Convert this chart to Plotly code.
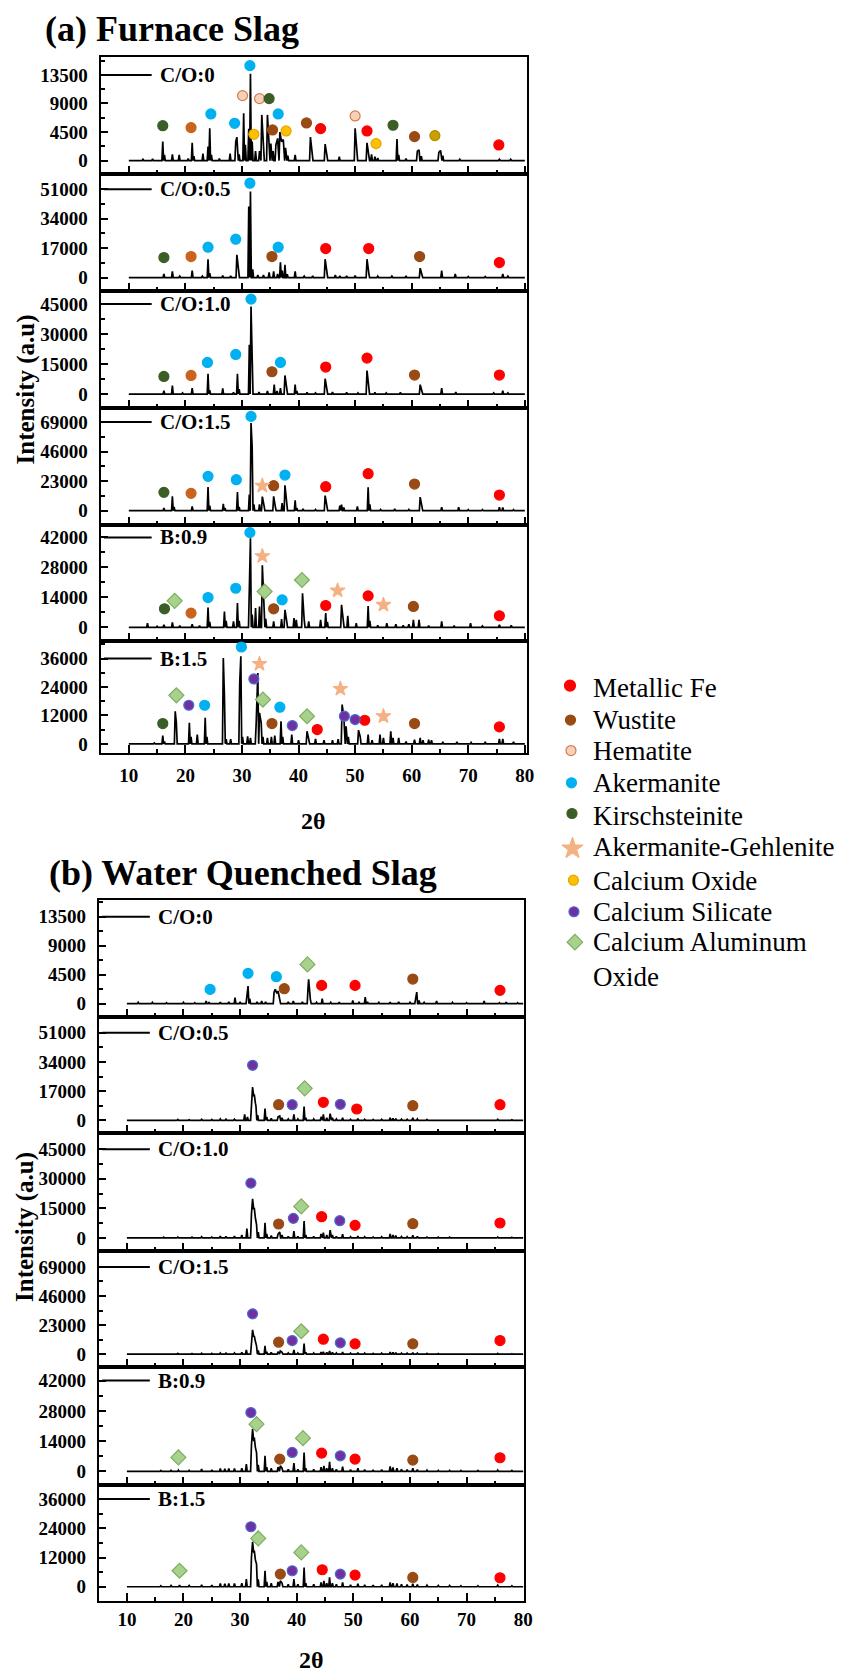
import plotly.graph_objects as go

W, H = 862, 1674
SERIF = "Liberation Serif"

# ---------------- phase marker styles ----------------
PHASE_STYLE = {
    "fe":    dict(symbol="circle",  fill="#FF0000", edge="#FF0000", size=10),
    "wus":   dict(symbol="circle",  fill="#9A4A14", edge="#9A4A14", size=10),
    "wus_o": dict(symbol="circle",  fill="#C9631E", edge="#C9631E", size=10),
    "hem":   dict(symbol="circle",  fill="#F8D0BA", edge="#CF8050", size=10),
    "ake":   dict(symbol="circle",  fill="#00B0F0", edge="#00B0F0", size=10),
    "kir":   dict(symbol="circle",  fill="#3B5E26", edge="#3B5E26", size=10),
    "akg":   dict(symbol="star",    fill="#F4B183", edge="#F4B183", size=11),
    "cao":   dict(symbol="circle",  fill="#FFC000", edge="#E2A600", size=10),
    "cao_d": dict(symbol="circle",  fill="#C9A000", edge="#B08A00", size=10),
    "cas":   dict(symbol="circle",  fill="#7030A0", edge="#4A6BD6", size=10),
    "caa":   dict(symbol="diamond", fill="#A9D18E", edge="#7DAE5E", size=11.5),
}

legend_keys = ["fe", "wus", "hem", "ake", "kir", "akg", "cao", "cas", "caa"]
legend_names = ["Metallic Fe", "Wustite", "Hematite", "Akermanite", "Kirschsteinite",
                "Akermanite-Gehlenite", "Calcium Oxide", "Calcium Silicate",
                "Calcium Aluminum<br>Oxide"]

# ---------------- samples ----------------
sample_labels = ["C/O:0", "C/O:0.5", "C/O:1.0", "C/O:1.5", "B:0.9", "B:1.5"]
tick_steps = [4500, 17000, 15000, 23000, 14000, 12000]

# ---------------- (a) furnace slag: peak positions (2θ) and intensities ----------------
fs_co0_2theta = [12.5, 14.2, 16.0, 16.3, 17.7, 18.9, 20.5, 21.2, 21.5, 23.1, 24.0, 24.3, 24.6, 26.0,
                 27.9, 28.9, 29.1, 29.5, 30.3, 30.6, 31.2, 31.5, 31.8, 32.4, 33.1, 33.5, 33.8, 34.5,
                 34.8, 35.1, 35.5, 36.0, 36.3, 36.7, 37.0, 37.3, 37.7, 38.1, 39.4, 42.1, 42.4, 44.7,
                 45.0, 47.2, 50.0, 50.3, 52.1, 52.4, 52.9, 53.5, 54.0, 57.4, 57.7, 59.0, 61.0, 61.3,
                 61.7, 64.8, 65.1, 65.5, 68.5, 75.5, 77.5]
fs_co0_counts = [200, 250, 3000, 900, 1000, 900, 300, 2800, 700, 1100, 2200, 5100, 900, 300,
                 1100, 3000, 3700, 1000, 7450, 2500, 5000, 13700, 3000, 1500, 1500, 7200, 2000, 7200,
                 2500, 2700, 1500, 2500, 3500, 4500, 3000, 3300, 2000, 800, 900, 3700, 1000, 2600,
                 900, 600, 5100, 800, 2800, 900, 1000, 600, 400, 3400, 900, 300, 1500, 1700,
                 700, 1300, 1600, 800, 200, 200, 200]

fs_co05_2theta = [12.0, 14.0, 16.2, 17.7, 19.0, 21.2, 23.0, 24.0, 24.3, 26.6, 28.0, 29.1, 29.4, 31.2,
                  31.5, 31.9, 32.8, 33.8, 34.8, 35.6, 36.3, 36.8, 37.1, 37.6, 38.0, 39.4, 41.0, 42.5,
                  44.7, 45.0, 46.5, 47.3, 48.5, 50.0, 52.1, 52.4, 54.0, 56.5, 59.0, 61.5, 61.8, 65.3,
                  67.7, 70.0, 73.0, 76.1, 77.0]
fs_co05_counts = [300, 300, 2100, 3500, 800, 4000, 800, 10600, 2500, 1200, 1000, 13100, 3000, 41000,
                  49700, 4800, 1500, 1500, 3000, 3500, 2000, 8850, 4000, 7300, 2000, 3500, 800, 1000,
                  10600, 3000, 1500, 1000, 1000, 1200, 10600, 3000, 800, 800, 1000, 5400, 1500, 4000,
                  2100, 600, 600, 2100, 800]

fs_co10_2theta = [12.0, 14.5, 16.2, 17.7, 19.5, 21.2, 24.0, 24.3, 26.6, 28.5, 29.2, 29.5, 31.3, 31.6,
                  31.8, 33.0, 34.5, 35.7, 36.2, 36.8, 37.6, 37.9, 39.4, 39.7, 41.5, 43.0, 44.7, 45.0,
                  46.0, 48.5, 50.5, 52.1, 52.4, 53.5, 55.5, 58.0, 61.5, 61.8, 65.3, 67.8, 74.5, 76.1,
                  77.0]
fs_co10_counts = [300, 300, 1700, 4200, 600, 3000, 10200, 2000, 2800, 800, 10200, 2500, 24700, 43800,
                  15500, 1000, 1500, 4700, 1500, 3000, 9300, 2500, 4700, 1500, 800, 600, 7700, 2500,
                  1000, 800, 600, 11800, 5000, 800, 600, 800, 4700, 1500, 3000, 1000, 600, 1700,
                  600]

fs_co15_2theta = [12.0, 14.5, 16.2, 17.7, 18.0, 21.2, 24.0, 24.3, 26.7, 27.0, 29.2, 29.5, 31.3, 31.6,
                  31.8, 32.1, 33.1, 33.6, 33.9, 35.6, 35.9, 37.1, 37.6, 37.9, 39.4, 39.7, 40.8, 43.0,
                  44.7, 45.0, 47.3, 47.6, 48.0, 50.4, 52.3, 52.6, 54.5, 57.0, 59.5, 61.5, 61.8, 65.3,
                  68.3, 70.0, 72.5, 75.5, 76.1, 78.0]
fs_co15_counts = [300, 300, 2000, 11150, 3000, 3400, 18400, 4000, 5400, 2000, 14500, 3000, 12500, 68200,
                  50000, 5000, 5000, 11000, 4000, 11150, 3000, 6000, 19700, 5000, 8000, 2000, 1500, 1000,
                  11700, 4000, 4000, 4700, 2500, 3400, 18160, 5000, 1000, 1500, 1000, 10600, 3000, 2800,
                  2800, 800, 800, 2800, 2500, 800]

fs_b09_2theta = [11.5, 13.3, 15.0, 16.2, 17.7, 19.0, 21.2, 22.5, 24.0, 24.3, 26.9, 27.2, 28.5, 29.2,
                 29.5, 31.3, 31.5, 31.8, 32.4, 33.1, 33.6, 33.8, 34.2, 35.6, 37.0, 37.6, 37.9, 39.2,
                 39.6, 40.7, 41.0, 41.8, 43.9, 44.8, 45.1, 47.6, 47.9, 48.7, 50.2, 52.3, 52.6, 54.0,
                 55.6, 57.2, 58.5, 59.5, 60.3, 61.3, 63.0, 65.3, 67.5, 70.4, 72.5, 75.5, 77.6]
fs_b09_counts = [300, 2000, 500, 1200, 2300, 800, 1500, 800, 9280, 2500, 7400, 3000, 2800, 11300,
                 3000, 18250, 41600, 6000, 9000, 9750, 29000, 14400, 4000, 2800, 3900, 8200, 3000, 4300,
                 3500, 15900, 3500, 2800, 3500, 6650, 2500, 10520, 3000, 5400, 2000, 10000, 3000, 1000,
                 2000, 1500, 1000, 1500, 3500, 3500, 800, 2800, 800, 2000, 600, 1200, 900]

fs_b15_2theta = [12.5, 14.5, 16.0, 16.3, 18.2, 18.4, 20.7, 21.0, 22.1, 23.5, 23.8, 26.7, 26.9, 27.2,
                 28.0, 29.6, 29.8, 30.1, 31.0, 31.5, 32.5, 32.8, 33.1, 33.4, 33.7, 34.5, 35.2, 35.8,
                 36.9, 37.2, 38.8, 40.0, 41.5, 41.8, 43.0, 44.5, 46.0, 47.0, 47.7, 48.0, 48.4, 48.8,
                 50.6, 50.9, 52.3, 53.0, 54.4, 55.0, 56.3, 56.7, 57.7, 59.0, 60.5, 61.5, 62.0, 63.0,
                 63.5, 65.5, 68.0, 70.5, 73.0, 75.5, 76.1, 78.0]
fs_b15_counts = [300, 400, 3500, 1000, 13780, 9000, 8860, 3000, 3900, 10970, 3000, 36270, 20100, 2000,
                 2000, 25700, 37000, 3000, 3200, 2500, 8000, 29950, 13080, 8860, 3000, 2500, 3000, 3500,
                 9560, 3000, 3900, 1500, 5340, 2000, 2100, 1500, 1500, 2000, 16600, 11670, 7450, 3000,
                 5800, 3000, 3900, 1500, 3900, 2500, 5340, 2500, 2500, 1000, 1800, 2500, 1500, 1800,
                 1500, 800, 800, 600, 800, 2100, 2100, 800]

# ---------------- (b) water quenched slag ----------------
wq_co0_2theta = [12.0, 14.5, 17.0, 20.0, 22.0, 24.0, 24.5, 26.5, 28.0, 29.1, 30.0, 31.2, 31.4, 31.7,
                 33.0, 33.8, 34.5, 36.0, 36.2, 36.5, 36.7, 37.0, 38.5, 39.4, 41.0, 42.0, 42.1, 42.4,
                 43.5, 44.5, 46.0, 47.5, 49.9, 51.0, 52.1, 52.5, 54.5, 56.5, 58.0, 60.0, 61.0, 61.2,
                 61.6, 62.5, 64.7, 67.5, 70.0, 73.1, 75.8, 77.0, 79.0]
wq_co0_counts = [200, 200, 150, 200, 150, 400, 250, 250, 300, 930, 300, 1500, 2740, 800,
                 300, 400, 300, 1800, 2220, 1600, 1970, 400, 300, 400, 300, 2500, 3780, 700,
                 200, 780, 200, 250, 520, 200, 1030, 300, 200, 250, 300, 200, 900, 1810,
                 500, 200, 410, 200, 150, 410, 150, 260, 150]

wq_co05_2theta = [13.0, 16.0, 19.0, 21.0, 23.2, 25.0, 26.5, 27.5, 29.0, 30.8, 31.3, 32.0, 32.2, 32.4,
                  32.5, 32.7, 32.8, 33.1, 34.4, 34.7, 35.5, 36.7, 37.0, 37.4, 38.5, 39.5, 40.2, 41.3,
                  41.6, 43.0, 44.3, 44.7, 45.3, 45.9, 46.3, 47.0, 48.1, 49.5, 50.8, 52.0, 53.5, 55.0,
                  56.5, 57.0, 57.5, 58.5, 59.5, 60.5, 61.3, 63.0, 65.0, 67.0, 69.0, 72.0, 75.5, 78.0]
wq_co05_counts = [300, 400, 500, 300, 600, 500, 800, 700, 700, 3500, 2000, 12000, 19400, 14000,
                  15100, 10000, 8300, 3000, 6800, 2000, 1200, 2000, 2500, 1500, 800, 3500, 800, 7950,
                  1500, 800, 2000, 3500, 1500, 3900, 1500, 800, 1550, 600, 1000, 600, 500, 600,
                  1550, 1200, 1000, 700, 600, 1550, 800, 500, 400, 400, 300, 300, 600, 300]

wq_co10_2theta = [13.0, 16.5, 19.0, 21.5, 23.2, 25.0, 26.5, 27.5, 29.0, 30.3, 31.2, 32.0, 32.2, 32.4,
                  32.5, 32.7, 32.9, 33.2, 34.4, 34.7, 35.5, 36.7, 37.0, 37.4, 38.5, 39.5, 40.2, 41.3,
                  41.6, 43.0, 44.3, 44.7, 45.3, 45.9, 46.3, 47.0, 48.1, 49.5, 50.8, 52.0, 53.5, 55.0,
                  56.5, 57.0, 57.5, 58.5, 59.5, 60.5, 61.3, 63.0, 65.0, 67.0, 69.0, 72.0, 75.5, 78.0]
wq_co10_counts = [300, 400, 500, 400, 600, 500, 900, 800, 900, 1500, 4700, 12000, 19880, 14500,
                  15300, 10000, 6900, 3000, 7750, 2000, 1200, 2000, 3000, 1500, 800, 3500, 800, 8600,
                  1500, 800, 2000, 2700, 1500, 4000, 1500, 800, 1850, 600, 1000, 600, 500, 600,
                  2000, 1500, 1200, 700, 600, 1350, 800, 500, 400, 400, 300, 300, 500, 300]

wq_co15_2theta = [13.0, 16.5, 19.0, 21.5, 23.2, 25.0, 26.5, 27.5, 29.0, 30.3, 31.1, 32.0, 32.2, 32.4,
                  32.5, 32.7, 32.9, 33.2, 34.4, 34.7, 35.5, 36.7, 37.1, 37.4, 38.5, 39.5, 40.2, 41.3,
                  41.6, 43.0, 44.3, 44.7, 45.3, 45.8, 46.3, 47.0, 48.1, 49.5, 50.8, 52.0, 53.5, 55.0,
                  56.5, 57.0, 57.5, 58.5, 59.5, 60.5, 61.3, 63.0, 65.0, 67.0, 69.0, 72.0, 75.5, 78.0]
wq_co15_counts = [400, 500, 600, 500, 700, 600, 1000, 900, 1000, 1500, 3400, 12000, 19230, 14000,
                  14500, 10000, 6600, 3000, 6580, 2000, 1500, 2000, 2600, 1500, 1000, 3400, 1000, 8430,
                  1500, 1000, 1800, 2000, 1500, 2600, 1500, 1000, 1800, 800, 1200, 800, 600, 800,
                  1800, 1500, 1200, 800, 800, 1300, 900, 600, 500, 500, 400, 400, 600, 400]

wq_b09_2theta = [13.0, 16.0, 17.8, 19.1, 21.0, 23.2, 25.0, 26.5, 27.3, 28.0, 29.0, 30.3, 31.1, 32.0,
                 32.2, 32.4, 32.5, 32.7, 32.9, 33.2, 34.4, 34.7, 35.5, 36.7, 37.1, 37.4, 38.5, 39.5,
                 40.2, 41.3, 41.6, 43.0, 44.3, 44.8, 45.3, 45.8, 46.3, 47.0, 48.1, 49.5, 50.8, 52.0,
                 53.5, 55.0, 56.5, 57.0, 57.7, 58.5, 59.5, 60.5, 61.3, 63.0, 65.0, 67.0, 69.0, 72.0,
                 75.5, 78.0]
wq_b09_counts = [300, 400, 500, 600, 500, 1100, 700, 1400, 1200, 1400, 1400, 1500, 3400, 12000,
                 19530, 14000, 15690, 11000, 8770, 3000, 7230, 2000, 1500, 2000, 2600, 1500, 1000, 3850,
                 1000, 8770, 1500, 1000, 2000, 2600, 1500, 4460, 1500, 1000, 2150, 800, 1540, 800,
                 700, 800, 2300, 1800, 1500, 1000, 900, 1500, 900, 600, 500, 500, 400, 400,
                 600, 400]

wq_b15_2theta = [13.0, 16.0, 17.8, 19.3, 21.0, 23.2, 25.0, 26.5, 27.3, 28.0, 29.0, 30.3, 31.1, 32.0,
                 32.2, 32.4, 32.5, 32.7, 32.9, 33.2, 34.4, 34.7, 35.5, 36.7, 37.1, 37.4, 38.5, 39.5,
                 40.2, 41.3, 41.6, 43.0, 44.3, 44.8, 45.3, 45.8, 46.3, 47.0, 48.1, 49.5, 50.8, 52.0,
                 53.5, 55.0, 56.5, 57.0, 57.7, 58.5, 59.5, 60.5, 61.3, 63.0, 65.0, 67.0, 69.0, 72.0,
                 75.5, 78.0]
wq_b15_counts = [300, 400, 500, 700, 500, 800, 700, 1370, 1200, 1370, 1370, 1500, 3150, 12000,
                 18480, 14000, 14800, 11000, 9300, 3000, 6570, 2000, 1500, 2000, 2460, 1500, 1000, 3150,
                 1000, 7940, 1500, 1000, 1800, 2460, 1500, 3830, 1500, 1000, 1780, 800, 1200, 800,
                 700, 800, 1780, 1500, 1300, 1000, 900, 1200, 900, 600, 500, 500, 400, 400,
                 600, 400]

# ---------------- phase identification markers: (phase, 2θ, intensity) ----------------
fs_co0_marks = [("kir", 16.0, 5500), ("wus_o", 21.0, 5200), ("ake", 24.5, 7350), ("ake", 28.7, 5880),
                ("hem", 30.1, 10240), ("ake", 31.4, 14960), ("cao", 32.1, 4150), ("hem", 33.1, 9770),
                ("kir", 34.8, 9770), ("wus", 35.4, 4830), ("ake", 36.4, 7350), ("cao", 37.8, 4670),
                ("wus", 41.4, 5930), ("fe", 43.9, 5040), ("hem", 50.0, 7035), ("fe", 52.1, 4670),
                ("cao", 53.7, 2680), ("kir", 56.7, 5570), ("wus", 60.5, 3780), ("cao_d", 64.1, 3940),
                ("fe", 75.4, 2470)]
fs_co05_marks = [("kir", 16.2, 11550), ("wus_o", 21.0, 12130), ("ake", 24.0, 17520), ("ake", 28.9, 22140),
                 ("ake", 31.4, 54480), ("wus", 35.3, 12130), ("ake", 36.4, 17520), ("fe", 44.8, 16750),
                 ("fe", 52.4, 16750), ("wus", 61.4, 12130), ("fe", 75.5, 8660)]
fs_co10_marks = [("kir", 16.2, 8830), ("wus_o", 21.0, 9330), ("ake", 23.9, 15830), ("ake", 28.9, 19830),
                 ("ake", 31.6, 47500), ("wus", 35.3, 11170), ("ake", 36.8, 15830), ("fe", 44.8, 13500),
                 ("fe", 52.1, 18000), ("wus", 60.5, 9500), ("fe", 75.5, 9500)]
fs_co15_marks = [("kir", 16.2, 14270), ("wus_o", 21.0, 13490), ("ake", 24.0, 26720), ("ake", 29.0, 24120),
                 ("ake", 31.6, 73400), ("akg", 33.6, 19450), ("wus", 35.6, 19450), ("ake", 37.6, 27760),
                 ("fe", 44.8, 18680), ("fe", 52.3, 28800), ("wus", 60.5, 20750), ("fe", 75.5, 12190)]
fs_b09_marks = [("kir", 16.3, 8660), ("caa", 18.1, 12380), ("wus_o", 21.0, 6650), ("ake", 24.0, 13920),
                ("ake", 28.9, 18250), ("ake", 31.4, 44240), ("akg", 33.6, 33260), ("caa", 34.0, 16710),
                ("wus", 35.6, 8660), ("ake", 37.1, 12840), ("caa", 40.6, 22120), ("fe", 44.8, 10210),
                ("akg", 46.9, 17170), ("fe", 52.3, 14700), ("akg", 55.0, 10520), ("wus", 60.3, 9750),
                ("fe", 75.5, 5410)]
fs_b15_marks = [("kir", 16.0, 8580), ("caa", 18.4, 20500), ("cas", 20.6, 16300), ("ake", 23.4, 16300),
                ("ake", 29.9, 40900), ("cas", 32.1, 27400), ("akg", 33.1, 33750), ("caa", 33.7, 18700),
                ("wus", 35.3, 8580), ("ake", 36.7, 15470), ("cas", 38.9, 7730), ("caa", 41.5, 11670),
                ("fe", 43.3, 6050), ("akg", 47.4, 23200), ("cas", 48.1, 11670), ("cas", 50.0, 10260),
                ("fe", 51.7, 9980), ("akg", 55.0, 11670), ("wus", 60.5, 8580), ("fe", 75.5, 7170)]

wq_co0_marks = [("ake", 24.7, 2220), ("ake", 31.4, 4710), ("ake", 36.4, 4190), ("wus", 37.8, 2330),
                ("caa", 41.9, 6100), ("fe", 44.4, 2840), ("fe", 50.3, 2840), ("wus", 60.5, 3830),
                ("fe", 75.9, 2070)]
wq_co05_marks = [("cas", 32.2, 32000), ("wus", 36.8, 9100), ("cas", 39.2, 9100), ("caa", 41.4, 18600),
                 ("fe", 44.7, 10470), ("cas", 47.7, 9310), ("fe", 50.6, 6590), ("wus", 60.5, 8530),
                 ("fe", 75.9, 9110)]
wq_co10_marks = [("cas", 31.9, 27800), ("wus", 36.8, 7080), ("cas", 39.4, 9940), ("caa", 40.8, 16000),
                 ("fe", 44.4, 10780), ("cas", 47.6, 8760), ("fe", 50.3, 6400), ("wus", 60.5, 7250),
                 ("fe", 75.9, 7580)]
wq_co15_marks = [("cas", 32.2, 31870), ("wus", 36.8, 9480), ("cas", 39.2, 10800), ("caa", 40.8, 18170),
                 ("fe", 44.7, 11850), ("cas", 47.7, 8960), ("fe", 50.3, 8170), ("wus", 60.5, 8170),
                 ("fe", 75.9, 10800)]
wq_b09_marks = [("caa", 19.1, 6460), ("cas", 31.9, 27200), ("caa", 32.9, 21840), ("wus", 37.0, 5690),
                ("cas", 39.2, 8770), ("caa", 41.1, 15380), ("fe", 44.4, 8460), ("cas", 47.7, 7230),
                ("fe", 50.3, 5690), ("wus", 60.5, 5230), ("fe", 75.9, 6310)]
wq_b15_marks = [("caa", 19.3, 6570), ("cas", 31.9, 24640), ("caa", 33.2, 19850), ("wus", 37.1, 5200),
                ("cas", 39.2, 6570), ("caa", 40.8, 14100), ("fe", 44.5, 6980), ("cas", 47.7, 5200),
                ("fe", 50.3, 4790), ("wus", 60.5, 3830), ("fe", 75.9, 3700)]

panels = [
    dict(title="(a) Furnace Slag",
         spectra=[(fs_co0_2theta, fs_co0_counts), (fs_co05_2theta, fs_co05_counts),
                  (fs_co10_2theta, fs_co10_counts), (fs_co15_2theta, fs_co15_counts),
                  (fs_b09_2theta, fs_b09_counts), (fs_b15_2theta, fs_b15_counts)],
         marks=[fs_co0_marks, fs_co05_marks, fs_co10_marks, fs_co15_marks, fs_b09_marks, fs_b15_marks],
         bounds=[57, 174, 291, 408, 525, 641, 753.5],
         y_ranges=[(-2095, 16330), (-7670, 59830), (-6850, 51650),
                   (-10890, 80130), (-6200, 47930), (-3880, 43590)],
         left=101.6, right=532.1, xr=[5.0, 80.3], xstandoff=4,
         title_y=29, xlabel_y=821, ylabel_y=390, title_x=43),
    dict(title="(b) Water Quenched Slag",
         spectra=[(wq_co0_2theta, wq_co0_counts), (wq_co05_2theta, wq_co05_counts),
                  (wq_co10_2theta, wq_co10_counts), (wq_co15_2theta, wq_co15_counts),
                  (wq_b09_2theta, wq_b09_counts), (wq_b15_2theta, wq_b15_counts)],
         marks=[wq_co0_marks, wq_co05_marks, wq_co10_marks, wq_co15_marks, wq_b09_marks, wq_b15_marks],
         bounds=[900.7, 1017.7, 1134, 1251.7, 1368.3, 1486, 1602],
         y_ranges=[(-2080, 16080), (-7560, 60070), (-6590, 53080),
                   (-10500, 81600), (-6330, 48050), (-5870, 41750)],
         left=99.9, right=529.3, xr=[5.05, 80.1], xstandoff=0,
         title_y=874, xlabel_y=1661, ylabel_y=1228, title_x=48),
]


def profile(pos, cnt, half=0.15, start=10.0, end=80.0):
    """Turn a peak list into a needle-style diffractogram polyline."""
    pairs = sorted(zip(pos, cnt))
    xs, ys = [start], [0]
    for i, (p, c) in enumerate(pairs):
        if i == 0 or p - pairs[i - 1][0] > 2 * half:
            xs.append(p - half); ys.append(0)
        xs.append(p); ys.append(c)
        if i == len(pairs) - 1 or pairs[i + 1][0] - p > 2 * half:
            xs.append(p + half); ys.append(0)
    xs.append(end); ys.append(0)
    return xs, ys


def px(x):
    return x / W


def py(y):
    return 1 - y / H


def ax_id(k):
    s = "" if k == 1 else str(k)
    return f"x{s}", f"y{s}", f"xaxis{s}", f"yaxis{s}"


fig = go.Figure()
layout = {}
shapes, annotations = [], []
tick_font = dict(family=SERIF, size=19, color="black", weight="bold")

n = 0
for panel in panels:
    for i in range(6):
        n += 1
        xr_, yr_, xa, ya = ax_id(n)
        top, bottom = panel["bounds"][i], panel["bounds"][i + 1]
        step = tick_steps[i]
        last = i == 5

        tx, ty = profile(*panel["spectra"][i])
        fig.add_trace(go.Scatter(x=tx, y=ty, mode="lines", xaxis=xr_, yaxis=yr_,
                                 line=dict(color="black", width=1.7), showlegend=False,
                                 hoverinfo="skip"))

        marks = panel["marks"][i]
        for key in PHASE_STYLE:
            sel = [m for m in marks if m[0] == key]
            if not sel:
                continue
            st = PHASE_STYLE[key]
            fig.add_trace(go.Scatter(
                x=[m[1] for m in sel], y=[m[2] for m in sel], mode="markers",
                xaxis=xr_, yaxis=yr_, showlegend=False, cliponaxis=False,
                marker=dict(symbol=st["symbol"], size=st["size"], color=st["fill"],
                            line=dict(color=st["edge"], width=1.2))))

        layout[xa] = dict(
            domain=[px(panel["left"]), px(panel["right"])], range=panel["xr"], anchor=yr_,
            showline=True, mirror=True, linecolor="black", linewidth=2,
            ticks="inside", ticklen=8, tickwidth=1.5, tickcolor="black",
            tick0=0, dtick=10, showgrid=False, zeroline=False,
            showticklabels=last, tickfont=tick_font, ticklabelstandoff=panel["xstandoff"],
            minor=dict(ticks="inside", ticklen=4, tickwidth=1.5, tickcolor="black",
                       tick0=0, dtick=5, showgrid=False))
        layout[ya] = dict(
            domain=[py(bottom), py(top)], range=list(panel["y_ranges"][i]), anchor=xr_,
            showline=True, mirror=True, linecolor="black", linewidth=2,
            ticks="inside", ticklen=7, tickwidth=1.5, tickcolor="black",
            tick0=0, dtick=step, tickformat="d", showgrid=False, zeroline=False,
            tickfont=tick_font, ticklabelstandoff=7,
            minor=dict(ticks="inside", ticklen=4, tickwidth=1.5, tickcolor="black",
                       tick0=0, dtick=step / 2, showgrid=False))

        # in-panel sample key: short line + bold label
        shapes.append(dict(type="line", xref=f"{xr_} domain", yref=yr_,
                           x0=0.008, x1=0.12, y0=3 * step, y1=3 * step,
                           line=dict(color="black", width=2)))
        annotations.append(dict(xref=f"{xr_} domain", yref=yr_, x=0.134, y=3 * step,
                                text=sample_labels[i], showarrow=False, xanchor="left",
                                yanchor="middle",
                                font=dict(family=SERIF, size=21, color="black", weight="bold")))

    annotations.append(dict(xref="paper", yref="paper", x=px(panel["title_x"]), y=py(panel["title_y"]),
                            text=panel["title"], showarrow=False, xanchor="left", yanchor="middle",
                            font=dict(family=SERIF, size=36, color="black", weight="bold")))
    annotations.append(dict(xref="paper", yref="paper",
                            x=px((panel["left"] + panel["right"]) / 2), y=py(panel["xlabel_y"]),
                            text="2θ", showarrow=False, xanchor="center", yanchor="middle",
                            font=dict(family=SERIF, size=24, color="black", weight="bold")))
    annotations.append(dict(xref="paper", yref="paper", x=px(26), y=py(panel["ylabel_y"]),
                            text="Intensity (a.u)", showarrow=False, textangle=-90,
                            xanchor="center", yanchor="middle",
                            font=dict(family=SERIF, size=25, color="black", weight="bold")))

# ---------------- phase legend on a pixel-space overlay ----------------
n += 1
lx, ly, lxa, lya = ax_id(n)
key_x = [576, 576.5, 577, 577.5, 578, 578.5, 579.5, 580, 581]
key_y = [686, 720.5, 751, 783.3, 814, 849, 880.7, 912.3, 942.7]
legend_sizes = {"fe": 11, "wus": 10, "hem": 10, "ake": 10, "kir": 10, "akg": 16,
                "cao": 10, "cas": 10, "caa": 12}
for k, key in enumerate(legend_keys):
    st = PHASE_STYLE[key]
    fig.add_trace(go.Scatter(x=[key_x[k]], y=[key_y[k]], mode="markers",
                             xaxis=lx, yaxis=ly, showlegend=False, hoverinfo="skip",
                             marker=dict(symbol=st["symbol"], size=legend_sizes[key], color=st["fill"],
                                         line=dict(color=st["edge"], width=1.2))))
text_y = [688.5, 720, 751.5, 783, 816.5, 848, 882, 912.5, 960]
for k, name in enumerate(legend_names):
    annotations.append(dict(xref="paper", yref="paper", x=px(597), y=py(text_y[k]),
                            text=name, showarrow=False, xanchor="left", yanchor="middle",
                            align="left",
                            font=dict(family="Liberation Serif, Times New Roman, serif",
                                      size=27, color="black", weight="normal")))
layout[lxa] = dict(domain=[0, 1], range=[0, W], visible=False, anchor=ly)
layout[lya] = dict(domain=[0, 1], range=[H, 0], visible=False, anchor=lx)

fig.update_layout(
    width=W, height=H, margin=dict(l=0, r=0, t=0, b=0),
    paper_bgcolor="white", plot_bgcolor="rgba(0,0,0,0)",
    shapes=shapes, annotations=annotations, showlegend=False,
    font=dict(family=SERIF, color="black"),
    **layout)

fig.write_html("out.html")
